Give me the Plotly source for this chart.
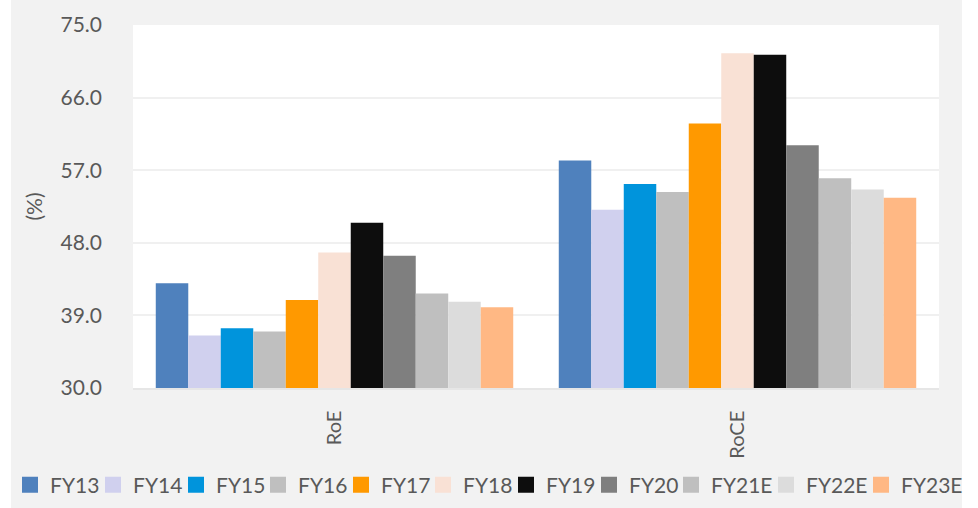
import plotly.graph_objects as go

categories = ["RoE", "RoCE"]
series = ["FY13", "FY14", "FY15", "FY16", "FY17", "FY18", "FY19", "FY20", "FY21E", "FY22E", "FY23E"]
roe = [43.0, 36.5, 37.4, 37.0, 40.9, 46.8, 50.5, 46.4, 41.7, 40.7, 40.0]
roce = [58.2, 52.1, 55.3, 54.3, 62.8, 71.5, 71.3, 60.1, 56.0, 54.6, 53.6]
colors = ["#4f81bd", "#d0d0ee", "#0094dc", "#bfbfbf", "#ff9900", "#f9e1d5",
          "#0d0d0d", "#7f7f7f", "#bfbfbf", "#dcdcdc", "#ffb884"]
yticks = [30.0, 39.0, 48.0, 57.0, 66.0, 75.0]
# left pixel position of each legend label text in the 978px-wide canvas
legend_text_x = [47, 130, 213, 295, 378, 460, 543, 626, 708, 803, 898]

FONT = "Lato"
GREY = "#595959"
W, H = 978, 508

fig = go.Figure()
for i, name in enumerate(series):
    fig.add_trace(go.Bar(
        x=categories, y=[roe[i], roce[i]], name=name,
        marker=dict(color=colors[i], line=dict(width=0)),
        showlegend=False,
    ))

legends = {}
for i, name in enumerate(series):
    key = "legend" if i == 0 else f"legend{i + 1}"
    fig.add_trace(go.Scatter(
        x=[None], y=[None], mode="markers", name=name,
        marker=dict(symbol="square", size=16, color=colors[i]),
        showlegend=True, legend=key,
    ))
    legends[key] = dict(
        orientation="h", xref="container", yref="container",
        x=(legend_text_x[i] - 37) / W, xanchor="left",
        y=1 - 485 / H, yanchor="middle",
        font=dict(size=21, family=FONT, color=GREY),
        bgcolor="rgba(0,0,0,0)", borderwidth=0, itemsizing="trace",
    )

fig.update_layout(
    width=W, height=H,
    barmode="group", bargap=0.113, bargroupgap=0,
    paper_bgcolor="#f2f2f2", plot_bgcolor="#ffffff",
    margin=dict(l=133, r=39, t=25, b=120, autoexpand=False),
    font=dict(family=FONT, color=GREY),
    xaxis=dict(tickangle=-90, tickfont=dict(size=20, family=FONT, color=GREY),
               showline=True, linecolor="#e6e6e6", linewidth=1.5, ticks="",
               ticklabelstandoff=13),
    yaxis=dict(range=[30, 75], tickvals=yticks, tickformat=".1f",
               tickfont=dict(size=21, family=FONT, color=GREY),
               gridcolor="#f0f0f0", gridwidth=1.5, zeroline=False,
               ticklabelstandoff=30,
               title=dict(text="(%)", font=dict(size=21, family=FONT, color=GREY), standoff=12)),
    shapes=[
        dict(type="rect", xref="paper", yref="paper", x0=-0.2, x1=-0.1514, y0=-0.4, y1=1.2,
             fillcolor="#ffffff", line=dict(width=0), layer="above"),
        dict(type="rect", xref="paper", yref="paper", x0=1.0285, x1=1.1, y0=-0.4, y1=1.2,
             fillcolor="#ffffff", line=dict(width=0), layer="above"),
    ],
    **legends,
)

fig.write_html("out.html")
